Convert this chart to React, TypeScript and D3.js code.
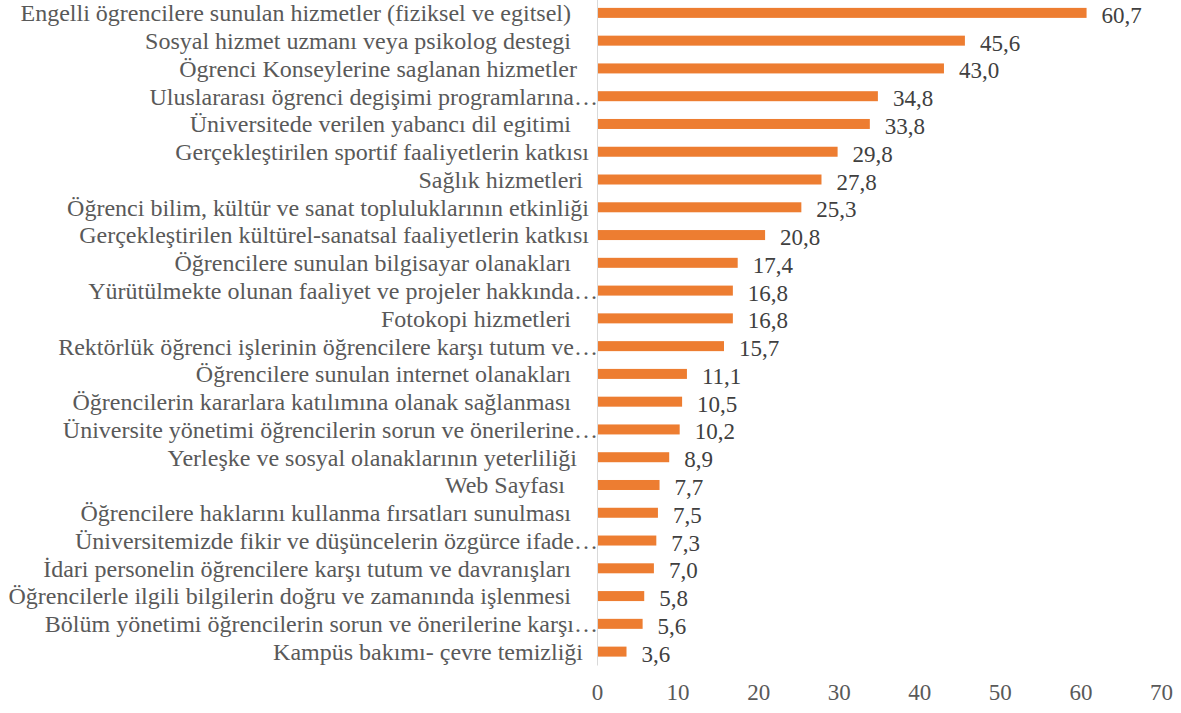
import React from 'react';
import * as d3 from 'd3';

// categories as shown in the chart (trailing spaces kept as in source labels)
const categories: string[] = [
  'Engelli ögrencilere sunulan hizmetler (fiziksel ve egitsel)   ',
  'Sosyal hizmet uzmanı veya psikolog destegi   ',
  'Ögrenci Konseylerine saglanan hizmetler  ',
  'Uluslararası ögrenci degişimi programlarına…',
  'Üniversitede verilen yabancı dil egitimi   ',
  'Gerçekleştirilen sportif faaliyetlerin katkısı',
  'Sağlık hizmetleri ',
  'Öğrenci bilim, kültür ve sanat topluluklarının etkinliği',
  'Gerçekleştirilen kültürel-sanatsal faaliyetlerin katkısı',
  'Öğrencilere sunulan bilgisayar olanakları   ',
  'Yürütülmekte olunan faaliyet ve projeler hakkında…',
  'Fotokopi hizmetleri   ',
  'Rektörlük öğrenci işlerinin öğrencilere karşı tutum ve…',
  'Öğrencilere sunulan internet olanakları   ',
  'Öğrencilerin kararlara katılımına olanak sağlanması   ',
  'Üniversite yönetimi öğrencilerin sorun ve önerilerine…',
  'Yerleşke ve sosyal olanaklarının yeterliliği  ',
  'Web Sayfası    ',
  'Öğrencilere haklarını kullanma fırsatları sunulması   ',
  'Üniversitemizde fikir ve düşüncelerin özgürce ifade…',
  'İdari personelin öğrencilere karşı tutum ve davranışları   ',
  'Öğrencilerle ilgili bilgilerin doğru ve zamanında işlenmesi   ',
  'Bölüm yönetimi öğrencilerin sorun ve önerilerine karşı…',
  'Kampüs bakımı- çevre temizliği ',
];

const values: number[] = [
  60.7, 45.6, 43.0, 34.8, 33.8, 29.8, 27.8, 25.3, 20.8, 17.4, 16.8, 16.8,
  15.7, 11.1, 10.5, 10.2, 8.9, 7.7, 7.5, 7.3, 7.0, 5.8, 5.6, 3.6,
];

const xTicks: number[] = [0, 10, 20, 30, 40, 50, 60, 70];

const W = 1181;
const H = 713;
const SERIF = "'Liberation Serif', serif";

const x = d3.scaleLinear().domain([0, 70]).range([597.5, 1161.5]);
const y = d3.scaleBand<string>()
  .domain(categories)
  .range([-1, 665.5])
  .paddingInner(0.64)
  .paddingOuter(0.32);

const fmt = (v: number) => d3.format('.1f')(v).replace('.', ',');

const App = () => {
  const data = categories.map((c, i) => ({ cat: c, val: values[i] }));
  const bw = y.bandwidth();

  return (
    <svg width={W} height={H} style={{ position: 'absolute', left: 0, top: 0 }}>
      {/* bars */}
      <g>
        {data.map(d => (
          <rect key={d.cat} x={x(0)} y={y(d.cat)} width={x(d.val) - x(0)} height={bw} fill="#ed7d31" />
        ))}
      </g>

      {/* vertical axis line */}
      <line x1={x(0)} x2={x(0)} y1={0} y2={665.5} stroke="#d9d9d9" strokeWidth={1} />

      {/* category labels */}
      {data.map(d => (
        <text
          key={d.cat}
          x={d.cat.endsWith('…') ? 598 : 589}
          y={y(d.cat)! + bw / 2}
          dy="0.35em"
          textAnchor="end"
          fill="#595959"
          xmlSpace="preserve"
          style={{ fontFamily: SERIF, fontSize: '24px', whiteSpace: 'pre' }}
        >
          {d.cat}
        </text>
      ))}

      {/* value labels */}
      {data.map(d => (
        <text
          key={d.cat}
          x={x(d.val) + 15}
          y={y(d.cat)! + bw / 2 + 2}
          dy="0.35em"
          fill="#404040"
          style={{ fontFamily: SERIF, fontSize: '23px' }}
        >
          {fmt(d.val)}
        </text>
      ))}

      {/* x axis tick labels */}
      {xTicks.map(t => (
        <text
          key={t}
          x={x(t)}
          y={692}
          dy="0.35em"
          textAnchor="middle"
          fill="#595959"
          style={{ fontFamily: SERIF, fontSize: '23px' }}
        >
          {t}
        </text>
      ))}
    </svg>
  );
};

export default App;
